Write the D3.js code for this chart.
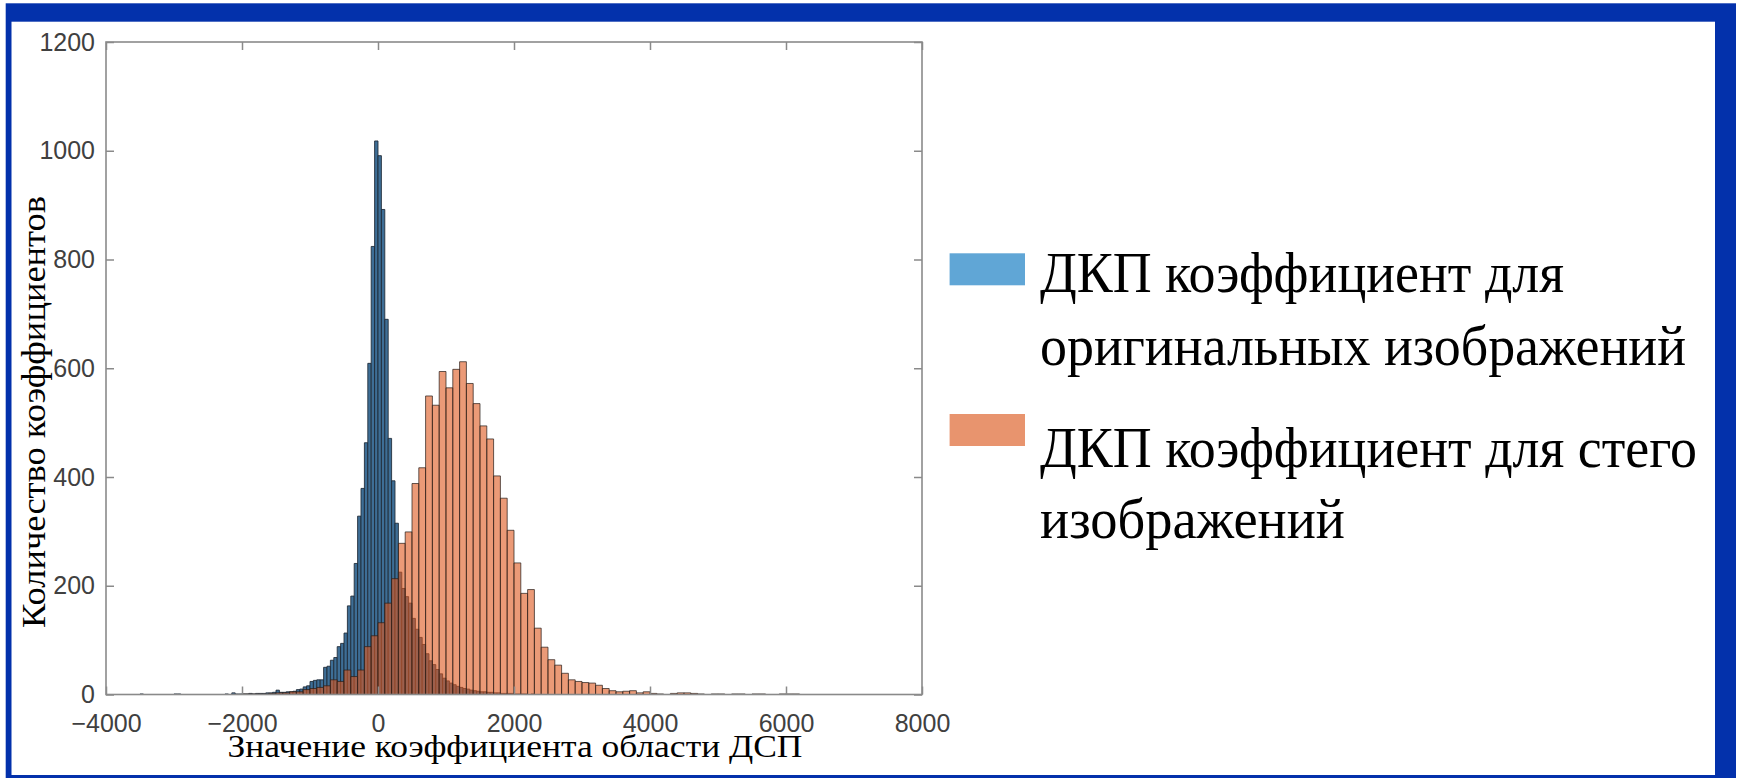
<!DOCTYPE html>
<html>
<head>
<meta charset="utf-8">
<script src="https://cdn.jsdelivr.net/npm/d3@7"></script>
<style>
  html, body { margin: 0; padding: 0; background: #ffffff; }
  svg { display: block; }
</style>
</head>
<body>
<svg id="chart" width="1737" height="778"></svg>
<script>
// Histogram of DCT coefficients: original images vs stego images.

// Original images: fixed-width bins (start, width) and counts per bin
const originalBinStart = -3500;
const originalBinWidth = 50;
const originalCounts = [
  1, 0, 0, 0, 0, 0, 0, 0, 0, 0,
  1, 1, 0, 0, 0, 0, 0, 0, 0, 0,
  0, 0, 0, 0, 0, 1, 0, 3, 1, 1,
  1, 1, 2, 1, 2, 2, 2, 3, 3, 4,
  8, 4, 4, 5, 5, 6, 9, 10, 14, 16,
  24, 26, 27, 27, 50, 52, 63, 68, 88, 94,
  113, 163, 181, 241, 328, 379, 463, 609, 824, 1018,
  991, 892, 690, 471, 393, 315, 225, 195, 180, 168,
  140, 120, 105, 92, 75, 62, 55, 46, 38, 30,
  25, 21, 18, 15, 13, 11, 10, 8, 7, 6,
  5, 5, 4, 4, 3, 3, 2, 2, 2, 2,
  1, 1, 1, 1, 0, 1, 0, 0, 0
];

// Stego images: fixed-width bins (start, width) and counts per bin
const stegoBinStart = -2100;
const stegoBinWidth = 100;
const stegoCounts = [
  0, 1, 1, 1, 1, 2, 3, 3, 5, 5,
  9, 11, 13, 16, 27, 24, 45, 33, 45, 88,
  108, 132, 168, 213, 278, 299, 388, 417, 549, 532,
  594, 564, 598, 612, 572, 535, 494, 470, 402, 361,
  302, 242, 186, 193, 122, 87, 64, 54, 39, 27,
  24, 22, 21, 17, 11, 7, 5, 6, 7, 3,
  5, 2, 1, 0, 2, 3, 3, 2, 1, 0,
  1, 1, 0, 1, 1, 0, 1, 1, 0, 0,
  1, 1, 1
];

// Axis ticks
const xTicks = [-4000, -2000, 0, 2000, 4000, 6000, 8000];
const yTicks = [0, 200, 400, 600, 800, 1000, 1200];

// Text
const xTitle = "Значение коэффициента области ДСП";
const yTitle = "Количество коэффициентов";
const legendLines = [
  ["ДКП коэффициент для", "оригинальных изображений"],
  ["ДКП коэффициент для стего", "изображений"]
];

const svg = d3.select("#chart");

// Blue frame around the figure
svg.append("rect").attr("x", 5.7).attr("y", 3.3).attr("width", 1730.3).attr("height", 780)
  .attr("fill", "#0331ab");
svg.append("rect").attr("x", 11.5).attr("y", 21.7).attr("width", 1703.5).attr("height", 753.3)
  .attr("fill", "#ffffff");

const plot = { left: 106, right: 922, top: 42, bottom: 694.5 };

const x = d3.scaleLinear().domain([-4000, 8000]).range([plot.left, plot.right]);
const y = d3.scaleLinear().domain([0, 1200]).range([plot.bottom, plot.top]);

function barPath(start, width, count, i) {
  const x0 = x(start + i * width), x1 = x(start + (i + 1) * width);
  const y0 = y(0), y1 = y(count);
  return `M${x0},${y0}V${y1}H${x1}V${y0}Z`;
}

// Original-image histogram
svg.append("g").selectAll("path")
  .data(originalCounts)
  .join("path")
  .attr("d", (d, i) => barPath(originalBinStart, originalBinWidth, d, i))
  .attr("fill", "rgb(62,110,150)")
  .attr("stroke", "rgb(30,40,52)")
  .attr("stroke-width", 0.85);

// Stego-image histogram, semi-transparent on top
svg.append("g").selectAll("path")
  .data(stegoCounts)
  .join("path")
  .attr("d", (d, i) => barPath(stegoBinStart, stegoBinWidth, d, i))
  .attr("fill", "rgb(222,86,28)")
  .attr("fill-opacity", 0.6)
  .attr("stroke", "rgb(40,30,26)")
  .attr("stroke-opacity", 0.85)
  .attr("stroke-width", 0.85);

// Axes: inward ticks on all four sides, labels on bottom and left
const axisColor = "#8a8a8a";
const tickFont = "'Liberation Sans', Arial, sans-serif";

function styleAxis(g) {
  g.select(".domain").remove();
  g.selectAll(".tick line").attr("stroke", axisColor).attr("stroke-width", 1.5);
  g.selectAll(".tick text")
    .attr("fill", "#404040")
    .style("font-family", tickFont)
    .style("font-size", "25px");
}

svg.append("g")
  .attr("transform", `translate(0,${plot.bottom})`)
  .call(d3.axisBottom(x).tickValues(xTicks).tickFormat(d3.format("d"))
    .tickSizeInner(-8).tickSizeOuter(0).tickPadding(20))
  .call(styleAxis);

svg.append("g")
  .attr("transform", `translate(0,${plot.top})`)
  .call(d3.axisTop(x).tickValues(xTicks).tickFormat("")
    .tickSizeInner(-8).tickSizeOuter(0))
  .call(styleAxis);

svg.append("g")
  .attr("transform", `translate(${plot.left},0)`)
  .call(d3.axisLeft(y).tickValues(yTicks).tickFormat(d3.format("d"))
    .tickSizeInner(-8).tickSizeOuter(0).tickPadding(11))
  .call(styleAxis);

svg.append("g")
  .attr("transform", `translate(${plot.right},0)`)
  .call(d3.axisRight(y).tickValues(yTicks).tickFormat("")
    .tickSizeInner(-8).tickSizeOuter(0))
  .call(styleAxis);

// Plot box
svg.append("rect")
  .attr("x", plot.left).attr("y", plot.top)
  .attr("width", plot.right - plot.left).attr("height", plot.bottom - plot.top)
  .attr("fill", "none").attr("stroke", axisColor).attr("stroke-width", 1.6);

// Axis titles
const serif = "'Liberation Serif', 'Times New Roman', serif";

svg.append("text")
  .attr("x", (plot.left + plot.right) / 2 + 1)
  .attr("y", 757)
  .attr("text-anchor", "middle")
  .attr("textLength", 575)
  .attr("lengthAdjust", "spacingAndGlyphs")
  .style("font-family", serif)
  .style("font-size", "32px")
  .attr("fill", "#000")
  .text(xTitle);

svg.append("text")
  .attr("transform", "translate(45,412) rotate(-90)")
  .attr("text-anchor", "middle")
  .attr("textLength", 432)
  .attr("lengthAdjust", "spacingAndGlyphs")
  .style("font-family", serif)
  .style("font-size", "34px")
  .attr("fill", "#000")
  .text(yTitle);

// Legend
const legendColors = ["rgb(96,166,214)", "rgb(232,148,110)"];
const legendSwatchY = [253.3, 414];
const legendBaselines = [[291.7, 365], [466.7, 538.3]];
const legendWidths = [[524, 646], [657, 305]];

const legend = svg.append("g");
legendColors.forEach((c, i) => {
  legend.append("rect")
    .attr("x", 949.6).attr("y", legendSwatchY[i])
    .attr("width", 75.4).attr("height", 32)
    .attr("fill", c);
  legendLines[i].forEach((line, j) => {
    legend.append("text")
      .attr("x", 1040)
      .attr("y", legendBaselines[i][j])
      .attr("textLength", legendWidths[i][j])
      .attr("lengthAdjust", "spacingAndGlyphs")
      .style("font-family", serif)
      .style("font-size", "56px")
      .attr("fill", "#000")
      .text(line);
  });
});
</script>
</body>
</html>
